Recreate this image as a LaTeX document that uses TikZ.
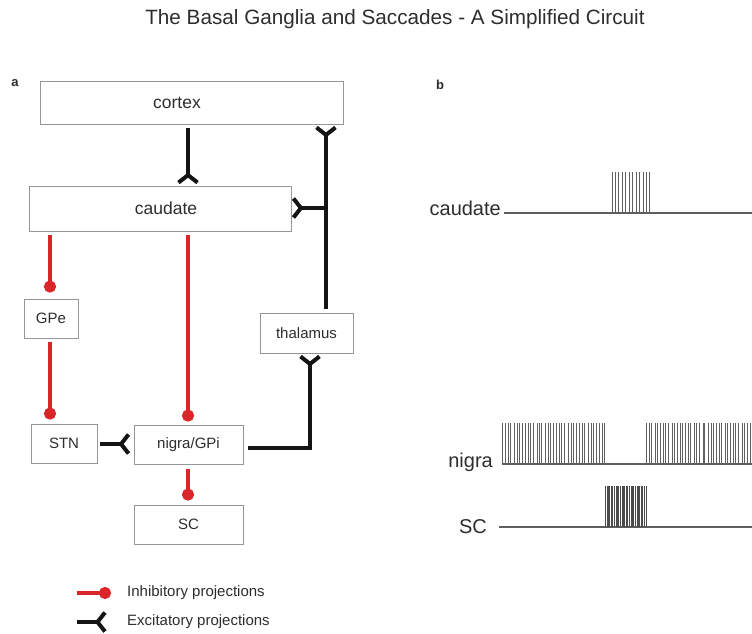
\documentclass[tikz,border=0pt]{standalone}
\usepackage{fontspec}
\setmainfont{Liberation Sans}
\usetikzlibrary{arrows.meta}
\definecolor{inh}{RGB}{218,37,41}
\definecolor{txt}{RGB}{45,45,45}
\definecolor{boxc}{RGB}{150,150,150}
\definecolor{spk}{RGB}{95,95,95}
\definecolor{spkd}{RGB}{75,75,75}
\definecolor{exc}{RGB}{20,20,20}
\begin{document}
\begin{tikzpicture}[x=1pt,y=-1pt,
  box/.style={draw=boxc, line width=0.9pt, inner sep=0pt, text=txt, font=\fontsize{15}{18}\selectfont},
  bigbox/.style={box, font=\fontsize{17.5}{20}\selectfont},
  inhib/.style={draw=inh, line width=3.5pt, -{Circle[length=12pt,width=12pt,fill=inh]}, shorten <=4pt, shorten >=4pt},
  excit/.style={draw=exc, line width=3.5pt, line cap=butt, shorten <=3.5pt},
  forkarm/.style={draw=exc, line width=4pt, line cap=butt, line join=miter},
  pics/exfork/.style={code={\draw[forkarm] (-9.5,8) -- (0,0.5) -- (9.5,8);}},
  spike/.style={draw=spk, line width=1pt},
  spiked/.style={draw=spkd, line width=1pt},
  base/.style={draw=spk, line width=1.2pt},
  trlab/.style={text=txt, font=\fontsize{20}{24}\selectfont, inner sep=0pt},
  leg/.style={text=txt, font=\fontsize{15}{18}\selectfont, inner sep=0pt, anchor=west},
  panel/.style={text=txt, font=\bfseries\fontsize{13}{16}\selectfont, inner sep=0pt},
]
\useasboundingbox (0,0) rectangle (752,633);

% title and panel letters
\node[text=txt, font=\fontsize{20.7}{24}\selectfont, inner sep=0pt, anchor=base] (title) at (395,24) {The Basal Ganglia and Saccades - A Simplified Circuit};
\node[panel] (pa) at (15,83) {a};
\node[panel] (pb) at (440,85) {b};

% boxes
\node[bigbox, minimum width=303pt, minimum height=43pt, label={[xshift=-14.5pt, text=txt, font=\fontsize{17.5}{20}\selectfont]center:cortex}] (cortex) at (191.5,102.5) {};
\node[bigbox, minimum width=262pt, minimum height=45pt, label={[xshift=6pt, text=txt, font=\fontsize{17.5}{20}\selectfont]center:caudate}] (caudate) at (160,208.5) {};
\node[box, minimum width=54pt, minimum height=39pt] (gpe) at (51,318.5) {GPe};
\node[box, minimum width=66pt, minimum height=39pt] (stn) at (64,443.5) {STN};
\node[box, minimum width=109pt, minimum height=39pt] (nigra) at (188.5,444.5) {nigra/GPi};
\node[box, minimum width=93pt, minimum height=40pt] (thal) at (306.5,333) {thalamus};
\node[box, minimum width=109pt, minimum height=39pt] (sc) at (188.5,524.5) {SC};

% helper coordinates
\coordinate (cx) at (188,0);
\coordinate (lx) at (50,0);
\coordinate (tx) at (326,0);
\coordinate (jn) at (326,208);
\coordinate (ty) at (310,0);
\coordinate (ny) at (0,448);
\path (caudate.north -| cx) ++(0,-11) coordinate (f1);
\path (cortex.south -| tx) ++(0,11) coordinate (f2);
\path (caudate.east |- jn) ++(10,0) coordinate (f3);
\path (thal.south -| ty) ++(0,11) coordinate (f4);
\path (nigra.west) ++(-13,-0.5) coordinate (f5);

% excitatory
\draw[excit] (cortex.south -| cx) -- (f1);
\pic at (f1) {exfork};
\draw[excit] (thal.north -| tx) -- (f2);
\pic[rotate=180] at (f2) {exfork};
\draw[excit, shorten <=0pt] (jn) -- (f3);
\pic[rotate=-90] at (f3) {exfork};
\draw[excit, shorten <=5pt] (nigra.east |- ny) -| (f4);
\pic[rotate=180] at (f4) {exfork};
\draw[excit, shorten <=3pt] (stn.east |- f5) -- (f5);
\pic[rotate=90] at (f5) {exfork};

% inhibitory
\draw[inhib, shorten >=6pt] (caudate.south -| lx) -- (gpe.north -| lx);
\draw[inhib] (gpe.south -| lx) -- (stn.north -| lx);
\draw[inhib, shorten >=3pt] (caudate.south -| cx) -- (nigra.north -| cx);
\draw[inhib, shorten <=5pt] (nigra.south -| cx) -- (sc.north -| cx);

% legend
\coordinate (li0) at (77,593);
\coordinate (li1) at (111,593);
\coordinate (le0) at (77,622);
\coordinate (le1) at (97,622);
\draw[inhib, shorten <=0pt, shorten >=0pt] (li0) -- (li1);
\draw[excit, shorten <=0pt] (le0) -- (le1);
\pic[rotate=90] at (le1) {exfork};
\node[leg] (legi) at (127,593) {Inhibitory projections};
\node[leg] (lege) at (127,622) {Excitatory projections};

% panel b: spike trains
\node[trlab, anchor=base east] (tcaud) at (501,215) {caudate};
\node[trlab, anchor=base east] (tnig) at (493,467) {nigra};
\node[trlab, anchor=base east] (tsc) at (487,533) {SC};

\draw[base] (504,213) -- (752,213);
\foreach \i in {0,...,11} \draw[spike] ({612+\i*3.45},213) -- ++(0,-41);

\draw[base] (502,464) -- (752,464);
\foreach \i in {0,...,36} \draw[spike] ({502.5+\i*2.85+0.5*sin(\i*97)},464) -- ++(0,-41);
\foreach \i in {0,...,37} \draw[spike] ({646.5+\i*2.8+0.5*sin(\i*131)},464) -- ++(0,-41);

\draw[base] (499,527) -- (752,527);
\foreach \i in {0,...,27} \draw[spiked] ({605.5+\i*1.5+0.35*sin(\i*71)},527) -- ++(0,-41);
\end{tikzpicture}
\end{document}
